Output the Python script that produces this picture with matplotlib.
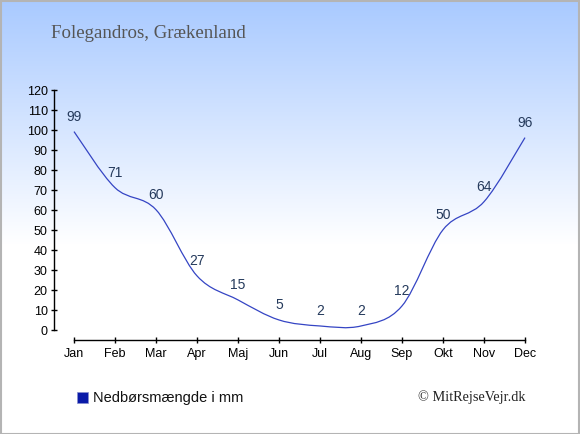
import numpy as np
import matplotlib
matplotlib.use("Agg")
import matplotlib.pyplot as plt
from matplotlib.path import Path
from matplotlib.patches import PathPatch, Rectangle

months = ["Jan", "Feb", "Mar", "Apr", "Maj", "Jun", "Jul", "Aug", "Sep", "Okt", "Nov", "Dec"]
rain = [99, 71, 60, 27, 15, 5, 2, 2, 12, 50, 64, 96]
yticks = list(range(0, 121, 10))
title = "Folegandros, Grækenland"
legend_label = "Nedbørsmængde i mm"
credit = "© MitRejseVejr.dk"

W, H = 580, 435
fig = plt.figure(figsize=(W / 100, H / 100), dpi=100)

# background: light blue at the top fading to white
bg = fig.add_axes([0, 0, 1, 1], zorder=-10)
rows = np.arange(H)
frac = np.clip(rows / 245.0, 0, 1)[:, None]
top = np.array([0.66, 0.79, 1.0])
grad = top + (1 - top) * frac
img = np.repeat(grad[:, None, :], 2, axis=1)
bg.imshow(img, aspect="auto", extent=[0, 1, 0, 1])
bg.set_axis_off()

# axes placement (pixel based)
left_px, right_px = 54, 545.5
top_px, bot_px = 90.5, 341
ax = fig.add_axes([left_px / W, (H - bot_px) / H, (right_px - left_px) / W, (bot_px - top_px) / H])
ax.set_facecolor("none")
ax.set_xlim(-20 / 41, 11.5)
ax.set_ylim(-5, 120)

for s in ["top", "right"]:
    ax.spines[s].set_visible(False)
ax.spines["left"].set_bounds(0, 120)
ax.spines["bottom"].set_bounds(0, 11)
ax.spines["left"].set_linewidth(1)
ax.spines["bottom"].set_linewidth(1)

ax.set_yticks(yticks)
ax.set_xticks(range(len(months)))
ax.set_xticklabels(months)
ax.tick_params(axis="y", direction="inout", length=5, width=1, labelsize=9, pad=2)
ax.tick_params(axis="x", direction="inout", length=4, width=1, labelsize=9, pad=3)
for lab in ax.get_xticklabels() + ax.get_yticklabels():
    lab.set_fontfamily("Liberation Sans")

# smooth line through the monthly values (Catmull-Rom as cubic Bezier)
x = np.arange(len(rain), dtype=float)
y = np.array(rain, dtype=float)
pts = np.column_stack([x, y])
ext = np.vstack([pts[0], pts, pts[-1]])
verts = [tuple(pts[0])]
codes = [Path.MOVETO]
for i in range(len(pts) - 1):
    p0, p1, p2, p3 = ext[i], ext[i + 1], ext[i + 2], ext[i + 3]
    c1 = p1 + (p2 - p0) / 6
    c2 = p2 - (p3 - p1) / 6
    verts += [tuple(c1), tuple(c2), tuple(p2)]
    codes += [Path.CURVE4] * 3
ax.add_patch(PathPatch(Path(verts, codes), facecolor="none", edgecolor="#3545c4",
                       linewidth=0.9, clip_on=False))

for xi, v in zip(x, rain):
    ax.annotate(str(v), (xi, v), xytext=(0, 6.5), textcoords="offset points",
                ha="center", va="bottom", fontsize=10, color="#253a5c",
                fontfamily="Liberation Sans")

fig.text(51 / W, 1 - 34 / H, title, fontsize=13.6, color="#555555",
         fontfamily="Liberation Serif", va="center", ha="left")

fig.patches.append(Rectangle((77 / W, 1 - 404 / H), 11 / W, 11 / H, transform=fig.transFigure,
                             facecolor="#0a1aa8", edgecolor="#8890d0", linewidth=0.5))
fig.text(93 / W, 1 - 398 / H, legend_label, fontsize=10.5, color="#111111",
         fontfamily="Liberation Sans", va="center", ha="left")
fig.text(526 / W, 1 - 397 / H, credit, fontsize=10.3, color="#222222",
         fontfamily="Liberation Serif", va="center", ha="right")

fig.patches.append(Rectangle((0.5 / W, 0.5 / H), (W - 2) / W, (H - 2) / H, transform=fig.transFigure,
                             facecolor="none", edgecolor="#b4b4b4", linewidth=1.5))

fig.savefig("out.png", dpi=100)
